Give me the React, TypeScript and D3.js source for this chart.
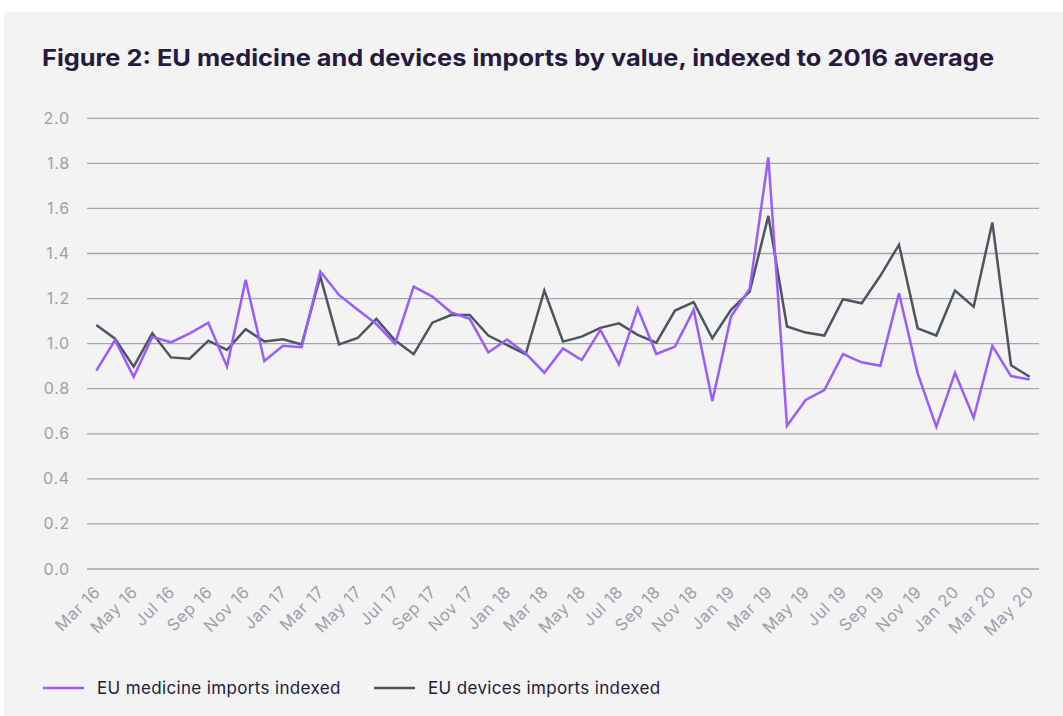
import React, { useEffect, useRef } from "react";
import * as d3 from "d3";

const months = [
  "Mar 16", "Apr 16", "May 16", "Jun 16", "Jul 16", "Aug 16", "Sep 16", "Oct 16", "Nov 16", "Dec 16",
  "Jan 17", "Feb 17", "Mar 17", "Apr 17", "May 17", "Jun 17", "Jul 17", "Aug 17", "Sep 17", "Oct 17", "Nov 17", "Dec 17",
  "Jan 18", "Feb 18", "Mar 18", "Apr 18", "May 18", "Jun 18", "Jul 18", "Aug 18", "Sep 18", "Oct 18", "Nov 18", "Dec 18",
  "Jan 19", "Feb 19", "Mar 19", "Apr 19", "May 19", "Jun 19", "Jul 19", "Aug 19", "Sep 19", "Oct 19", "Nov 19", "Dec 19",
  "Jan 20", "Feb 20", "Mar 20", "Apr 20", "May 20",
];

const medicine = [
  0.88, 1.016, 0.853, 1.03, 1.006, 1.046, 1.093, 0.898, 1.283, 0.923,
  0.991, 0.984, 1.32, 1.216, 1.15, 1.087, 1.0, 1.253, 1.209, 1.139, 1.11, 0.961,
  1.018, 0.957, 0.871, 0.979, 0.927, 1.061, 0.908, 1.157, 0.954, 0.987, 1.15, 0.745,
  1.12, 1.243, 1.827, 0.636, 0.75, 0.794, 0.954, 0.917, 0.902, 1.224, 0.868, 0.631,
  0.871, 0.671, 0.99, 0.856, 0.841,
];

const devices = [
  1.083, 1.022, 0.898, 1.046, 0.939, 0.933, 1.013, 0.972, 1.064, 1.01,
  1.019, 0.996, 1.298, 0.997, 1.025, 1.11, 1.015, 0.953, 1.093, 1.127, 1.127, 1.036,
  0.994, 0.953, 1.236, 1.009, 1.031, 1.07, 1.09, 1.039, 1.004, 1.147, 1.184, 1.024,
  1.15, 1.231, 1.567, 1.076, 1.049, 1.036, 1.197, 1.179, 1.301, 1.439, 1.068, 1.036,
  1.236, 1.164, 1.538, 0.904, 0.853,
];

const yTicks = [0, 0.2, 0.4, 0.6, 0.8, 1.0, 1.2, 1.4, 1.6, 1.8, 2.0];

const seriesNames = ["EU medicine imports indexed", "EU devices imports indexed"];

export default function App() {
  const ref = useRef<SVGSVGElement>(null);

  useEffect(() => {
    const svg = d3.select(ref.current);
    svg.selectAll("*").remove();
    const font = "Inter, 'Noto Sans', sans-serif";
    const purple = "#9b5cff";
    const dark = "#4b5661";
    const ink = "#261a40";
    const tickGray = "#9c9fac";

    svg
      .append("rect")
      .attr("x", 4)
      .attr("y", 12)
      .attr("width", 1059)
      .attr("height", 704)
      .attr("fill", "#f3f3f3");

    svg
      .append("text")
      .attr("x", 42)
      .attr("y", 66)
      .attr("fill", ink)
      .attr("font-family", font)
      .attr("font-weight", 700)
      .attr("font-size", 23)
      .attr("textLength", 952)
      .attr("lengthAdjust", "spacingAndGlyphs")
      .text("Figure 2: EU medicine and devices imports by value, indexed to 2016 average");

    const left = 87;
    const right = 1039;
    const y = d3.scaleLinear().domain([0, 2]).range([569, 118.3]);
    const x = d3.scaleBand<string>().domain(months).range([left, right]);
    const cx = (d: string) => (x(d) as number) + x.bandwidth() / 2;

    // grid + y labels
    const grid = svg.append("g");
    grid
      .selectAll("line")
      .data(yTicks)
      .enter()
      .append("line")
      .attr("x1", left)
      .attr("x2", right)
      .attr("y1", d => y(d))
      .attr("y2", d => y(d))
      .attr("stroke", "#a3a6b1")
      .attr("stroke-width", 1.3);
    grid
      .selectAll("text")
      .data(yTicks)
      .enter()
      .append("text")
      .attr("x", 70)
      .attr("y", d => y(d) + 5.5)
      .attr("text-anchor", "end")
      .attr("fill", tickGray)
      .attr("font-family", font)
      .attr("font-size", 16)
      .attr("letter-spacing", 0.8)
      .text(d => d.toFixed(1));

    // x labels, every second month
    svg
      .append("g")
      .selectAll("text")
      .data(months.filter((_, i) => i % 2 === 0))
      .enter()
      .append("text")
      .attr("transform", d => `translate(${cx(d) + 5}, ${593}) rotate(-45)`)
      .attr("text-anchor", "end")
      .attr("fill", tickGray)
      .attr("font-family", font)
      .attr("font-size", 16.5)
      .attr("letter-spacing", 0.6)
      .text(d => d);

    const line = d3
      .line<number>()
      .x((_, i) => cx(months[i]))
      .y(d => y(d));

    svg
      .append("path")
      .datum(devices)
      .attr("d", line)
      .attr("fill", "none")
      .attr("stroke", dark)
      .attr("stroke-width", 2.5)
      .attr("stroke-linejoin", "miter");

    svg
      .append("path")
      .datum(medicine)
      .attr("d", line)
      .attr("fill", "none")
      .attr("stroke", purple)
      .attr("stroke-width", 2.5)
      .attr("stroke-linejoin", "miter");

    // legend
    const legendX = [43, 374];
    const legendColors = [purple, dark];
    const legend = svg.append("g");
    seriesNames.forEach((name, i) => {
      legend
        .append("line")
        .attr("x1", legendX[i])
        .attr("x2", legendX[i] + 41)
        .attr("y1", 688)
        .attr("y2", 688)
        .attr("stroke", legendColors[i])
        .attr("stroke-width", 2.5);
      legend
        .append("text")
        .attr("x", legendX[i] + 54)
        .attr("y", 694)
        .attr("fill", ink)
        .attr("font-family", font)
        .attr("font-size", 17)
        .attr("letter-spacing", 0.35)
        .text(name);
    });
  }, []);

  return (
    <svg
      ref={ref}
      width={1063}
      height={716}
      style={{ position: "absolute", left: 0, top: 0, background: "#fff" }}
    ></svg>
  );
}
